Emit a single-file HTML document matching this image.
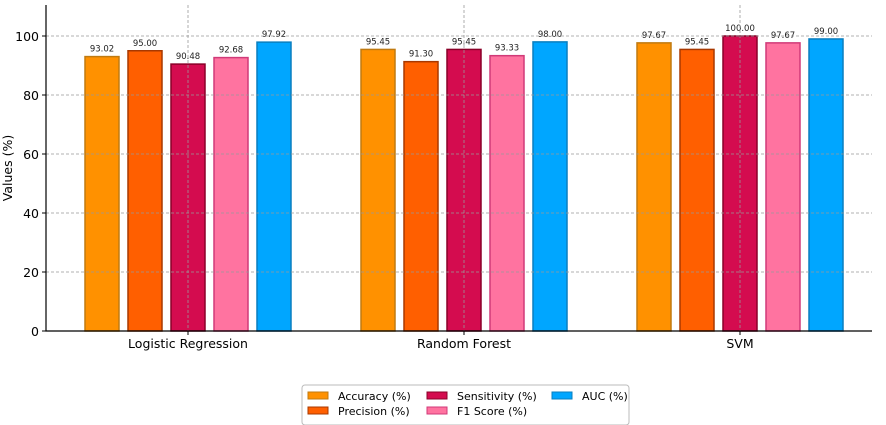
<!DOCTYPE html>
<html><head><meta charset="utf-8"><style>body{margin:0;background:#fff}svg{display:block;font-family:"DejaVu Sans","Liberation Sans",sans-serif}</style></head>
<body>
<svg id="c" width="886" height="425"></svg>
<script>
const categories=["Logistic Regression","Random Forest","SVM"];
const metrics=["Accuracy (%)","Precision (%)","Sensitivity (%)","F1 Score (%)","AUC (%)"];
const accuracy=[93.02,95.45,97.67];
const precision=[95.00,91.30,95.45];
const sensitivity=[90.48,95.45,100.00];
const f1=[92.68,93.33,97.67];
const auc=[97.92,98.00,99.00];
const yTicks=[0,20,40,60,80,100];
const series=[accuracy,precision,sensitivity,f1,auc];
const fills=["#FF9100","#FF5F00","#D40C4F","#FF73A0","#00A6FF"];
const edges=["#C07A10","#A83800","#8A0028","#D03A78","#0A7FBF"];
const NS="http://www.w3.org/2000/svg";
const svg=document.getElementById('c');
function el(t,a,p){const e=document.createElementNS(NS,t);for(const k in a)e.setAttribute(k,a[k]);(p||svg).appendChild(e);return e;}
const L=46,R=872,T=5,B=331;
const y=v=>B-v*2.95;
const xc=i=>188+i*276;
const bw=34,step=43;
series.forEach((s,j)=>s.forEach((v,i)=>{
 const cx=xc(i)+(j-2)*step;
 const r=el('rect',{x:cx-bw/2,y:y(v),width:bw,height:B-y(v),fill:fills[j],stroke:edges[j],'stroke-width':1.5});
 
 
 const t=el('text',{x:cx,y:y(v)-5,'text-anchor':'middle','font-size':8.5,fill:'#222'});
 t.textContent=v.toFixed(2);
 
 
}));
yTicks.forEach(v=>{
 if(v>0){const g=el('line',{x1:L,x2:R,y1:y(v),y2:y(v),stroke:'#999','stroke-dasharray':'3,2','stroke-width':0.8});
 }
 el('line',{x1:L-4,x2:L,y1:y(v),y2:y(v),stroke:'#000'});
 const t=el('text',{x:L-7,y:y(v)+5,'text-anchor':'end','font-size':12.5,fill:'#000'});t.textContent=v;
 
});
categories.forEach((c,i)=>{
 const g=el('line',{x1:xc(i),x2:xc(i),y1:T,y2:B,stroke:'#999','stroke-dasharray':'3,2','stroke-width':0.8});
 
 el('line',{x1:xc(i),x2:xc(i),y1:B,y2:B+4,stroke:'#000'});
 const t=el('text',{x:xc(i),y:B+17,'text-anchor':'middle','font-size':12.5,fill:'#000'});t.textContent=c;
 
});
const ax=el('path',{d:`M${L},${T}V${B}H${R}`,fill:'none',stroke:'#000','stroke-width':1.2});

const yt=el('text',{x:12,y:168,'text-anchor':'middle','font-size':12.5,transform:'rotate(-90 12 168)'});yt.textContent='Values (%)';

const lg=el('g',{});
el('rect',{x:302,y:385,width:327,height:40,rx:3,fill:'#fff',stroke:'#bbb'},lg);
const cols=[308,427,552];
metrics.forEach((m,j)=>{
 const cx=cols[Math.floor(j/2)],cy=j%2?411:396;
 el('rect',{x:cx,y:cy-4,width:20,height:7,fill:fills[j],stroke:edges[j]},lg);
 const t=el('text',{x:cx+30,y:cy+4,'font-size':11,fill:'#000'},lg);t.textContent=m;
 
});
</script>
</body></html>
